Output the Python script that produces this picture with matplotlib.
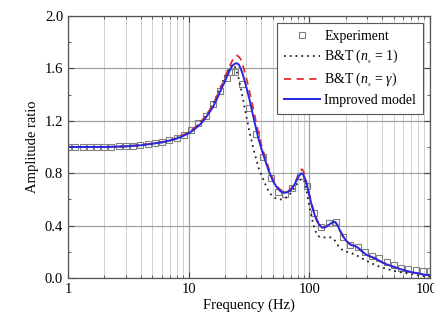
import matplotlib
matplotlib.use("Agg")
import matplotlib.pyplot as plt
from matplotlib.ticker import MultipleLocator, LogLocator, NullFormatter, FixedLocator, FixedFormatter

plt.rcParams['font.family'] = ['Liberation Serif', 'DejaVu Serif']
plt.rcParams['mathtext.fontset'] = 'custom'
plt.rcParams['mathtext.it'] = 'Liberation Serif:italic'
plt.rcParams['mathtext.rm'] = 'Liberation Serif'

# Experiment
exp_f = [1, 1.15, 1.32, 1.51, 1.74, 2.0, 2.29, 2.63, 3.02, 3.47, 3.98, 4.57, 5.25, 6.03,
         6.92, 7.94, 9.12, 10.5, 12.0, 13.8, 15.8, 18.2, 20.9, 22.5, 24.0, 27.5, 31.6, 36.3,
         41.7, 47.9, 55.0, 63.1, 72.4, 83.2, 95.5, 110, 126, 145, 166, 191, 219, 251,
         288, 331, 380, 437, 501, 575, 661, 759, 871, 1000]
exp_v = [1.0, 1.0, 1.0, 1.0, 1.0, 1.0, 1.0, 1.005, 1.01, 1.01, 1.015, 1.02, 1.03, 1.04,
         1.055, 1.07, 1.09, 1.13, 1.18, 1.24, 1.33, 1.43, 1.53, 1.57, 1.57, 1.48, 1.30, 1.10,
         0.92, 0.76, 0.66, 0.64, 0.69, 0.78, 0.70, 0.50, 0.39, 0.42, 0.43, 0.31, 0.25, 0.24,
         0.20, 0.17, 0.15, 0.12, 0.10, 0.08, 0.07, 0.06, 0.055, 0.05]

# Improved model
imp_f = [1, 1.5, 2, 3, 4, 5, 6, 7, 8, 9, 10, 11, 12, 13, 14, 15, 16, 17, 18, 19, 20, 21, 22,
         23, 24, 25, 26, 27, 28, 29, 30, 32, 34, 36, 38, 40, 43, 46, 50, 54, 58, 62, 66, 70,
         74, 78, 82, 86, 89, 92, 96, 100, 105, 110, 115, 120, 127, 135, 142, 150, 158, 165,
         172, 180, 190, 200, 212, 225, 238, 250, 265, 280, 300, 330, 360, 400, 450, 500,
         560, 630, 700, 800, 900, 1000]
imp_v = [1.0, 1.0, 1.0, 1.005, 1.013, 1.025, 1.035, 1.05, 1.065, 1.085, 1.105, 1.13, 1.16,
         1.19, 1.23, 1.27, 1.31, 1.36, 1.41, 1.46, 1.50, 1.55, 1.59, 1.62, 1.635, 1.64, 1.63,
         1.60, 1.56, 1.51, 1.46, 1.36, 1.25, 1.15, 1.06, 0.99, 0.90, 0.82, 0.74, 0.69, 0.66,
         0.65, 0.655, 0.67, 0.70, 0.74, 0.78, 0.80, 0.79, 0.76, 0.70, 0.63, 0.55, 0.49, 0.44,
         0.41, 0.385, 0.385, 0.40, 0.415, 0.43, 0.425, 0.40, 0.36, 0.32, 0.29, 0.265, 0.25,
         0.245, 0.235, 0.215, 0.195, 0.175, 0.16, 0.145, 0.12, 0.10, 0.085, 0.07, 0.055,
         0.045, 0.035, 0.025, 0.02]

# B&T (n_s = gamma)
btg_f = [1, 2, 3, 5, 7, 10, 12, 14, 16, 18, 20, 21, 22, 23, 24, 25, 26, 27, 28, 29, 30, 32,
         34, 36, 38, 40, 43, 46, 50, 54, 58, 62, 66, 70, 74, 78, 82, 86, 89, 92, 96, 100,
         105, 110, 115, 120, 127, 135, 142, 150, 158, 165, 172, 180, 190, 200, 212, 225,
         238, 250, 265, 280, 300, 330, 360, 400, 450, 500, 560, 630, 700, 800, 900, 1000]
btg_v = [1.0, 1.0, 1.005, 1.025, 1.05, 1.11, 1.17, 1.24, 1.33, 1.43, 1.53, 1.58, 1.62, 1.66,
         1.69, 1.70, 1.69, 1.67, 1.63, 1.58, 1.53, 1.42, 1.31, 1.20, 1.10, 1.02, 0.92, 0.84,
         0.75, 0.70, 0.67, 0.655, 0.66, 0.68, 0.71, 0.75, 0.80, 0.83, 0.82, 0.78, 0.71, 0.64,
         0.56, 0.50, 0.45, 0.42, 0.39, 0.39, 0.40, 0.42, 0.43, 0.425, 0.40, 0.36, 0.32,
         0.29, 0.265, 0.25, 0.245, 0.235, 0.215, 0.195, 0.175, 0.16, 0.145, 0.12, 0.10,
         0.085, 0.07, 0.055, 0.045, 0.035, 0.025, 0.02]

# B&T (n_s = 1)
bt1_f = [1, 2, 3, 5, 7, 10, 12, 14, 16, 18, 20, 21, 22, 23, 24, 25, 26, 28, 30, 32, 35, 38,
         42, 46, 50, 55, 60, 66, 72, 78, 84, 88, 92, 96, 100, 106, 112, 118, 125, 140, 150,
         158, 165, 175, 190, 205, 220, 240, 260, 300, 350, 400, 500, 600, 700, 800, 1000]
bt1_v = [1.0, 1.0, 1.005, 1.025, 1.05, 1.11, 1.17, 1.24, 1.33, 1.44, 1.54, 1.58, 1.61, 1.63,
         1.62, 1.58, 1.52, 1.38, 1.24, 1.11, 0.96, 0.84, 0.74, 0.66, 0.62, 0.60, 0.60, 0.62,
         0.66, 0.71, 0.75, 0.76, 0.73, 0.64, 0.55, 0.44, 0.36, 0.32, 0.31, 0.31, 0.31, 0.30,
         0.28, 0.24, 0.21, 0.20, 0.19, 0.18, 0.16, 0.13, 0.10, 0.08, 0.055, 0.04, 0.03, 0.02,
         0.01]

fig = plt.figure(figsize=(4.34, 3.21), dpi=100)
ax = fig.add_axes([0.1567, 0.134, 0.834, 0.816])

ax.plot(exp_f, exp_v, linestyle='none', marker='s', markersize=4, markerfacecolor='none',
        markeredgecolor='#808080', markeredgewidth=0.8, label='Experiment')
ax.plot(bt1_f, bt1_v, color='#222222', linestyle=(0, (1, 2.2)), linewidth=1.3,
        label=r'B&T ($n_{_s}$ = 1)')
ax.plot(btg_f, btg_v, color='#e03030', linestyle=(0, (4, 3)), linewidth=1.3,
        label=r'B&T ($n_{_s}$ = $\gamma$)')
ax.plot(imp_f, imp_v, color='#2828e0', linewidth=1.4, label='Improved model')

ax.set_xscale('log')
ax.set_xlim(1, 1000)
ax.set_ylim(0, 2.0)
ax.yaxis.set_major_locator(MultipleLocator(0.4))
ax.yaxis.set_minor_locator(MultipleLocator(0.2))
ax.yaxis.set_major_formatter(plt.FuncFormatter(lambda v, p: f"{v:.1f}"))
ax.xaxis.set_major_locator(FixedLocator([1, 10, 100, 1000]))
ax.xaxis.set_major_formatter(FixedFormatter(['1', '10', '100', '1000']))
ax.xaxis.set_minor_locator(LogLocator(base=10, subs=[2, 3, 4, 5, 6, 7, 8, 9]))
ax.xaxis.set_minor_formatter(NullFormatter())

ax.grid(True, which='major', axis='both', color='#a0a0a0', linewidth=0.9)
ax.grid(True, which='minor', axis='x', color='#d0d0d0', linewidth=0.7)
ax.set_axisbelow(True)

ax.tick_params(which='both', direction='in', top=True, right=True, labelsize=10.5,
               color='#444444')
ax.tick_params(which='major', length=4)
ax.tick_params(which='minor', length=2.5)
for s in ax.spines.values():
    s.set_color('#555555')
    s.set_linewidth(0.9)

ax.set_xlabel('Frequency (Hz)', fontsize=10.5, labelpad=2)
ax.set_ylabel('Amplitude ratio', fontsize=10.5, labelpad=4)

leg = ax.legend(loc='upper right', fontsize=10, frameon=True, fancybox=False,
                edgecolor='#555555', framealpha=1, handlelength=2.6, handletextpad=0.3,
                borderpad=0.5, labelspacing=0.35, borderaxespad=0.5)
leg.get_frame().set_linewidth(0.8)

fig.savefig('out.png', dpi=100)
